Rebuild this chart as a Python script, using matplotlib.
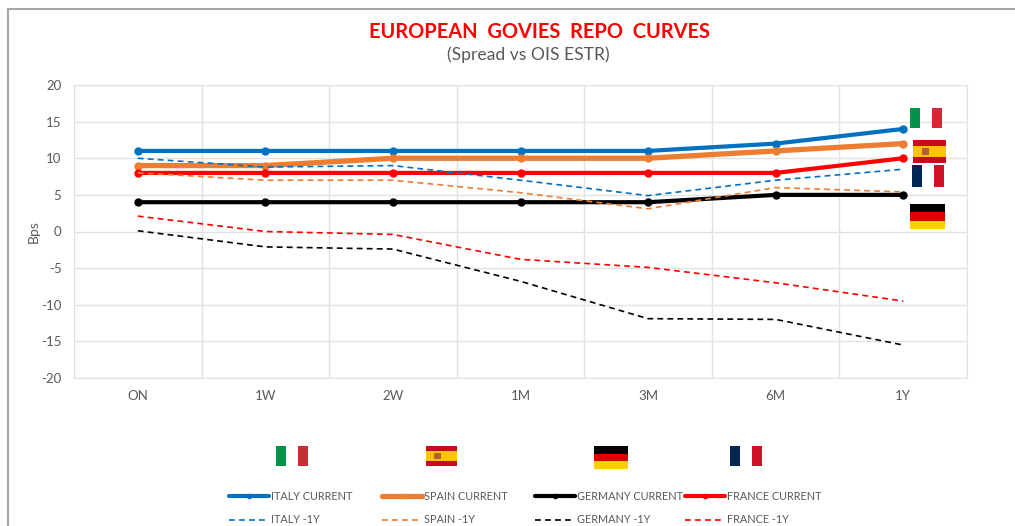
import matplotlib
matplotlib.use('Agg')
import matplotlib.pyplot as plt
from matplotlib.patches import Rectangle

# data
tenors = ['ON', '1W', '2W', '1M', '3M', '6M', '1Y']
italy_now = [11, 11, 11, 11, 11, 12, 14]
spain_now = [9, 9, 10, 10, 10, 11, 12]
germany_now = [4, 4, 4, 4, 4, 5, 5]
france_now = [8, 8, 8, 8, 8, 8, 10]
italy_old = [10, 8.8, 9, 7, 4.9, 7, 8.5]
spain_old = [8, 7, 7, 5.3, 3.1, 6, 5.4]
germany_old = [0.1, -2.1, -2.4, -6.8, -11.9, -12, -15.5]
france_old = [2.1, 0, -0.4, -3.8, -4.9, -7, -9.5]

W, H = 1015, 526
BLUE, ORANGE, RED = '#0070c0', '#ed7d31', '#ff0000'
GREY = '#595959'

plt.rcParams['font.family'] = ['Lato', 'DejaVu Sans']
plt.rcParams['axes.unicode_minus'] = False
fig = plt.figure(figsize=(W / 100, H / 100), dpi=100)
ax = fig.add_axes([74 / W, 1 - 378 / H, (967 - 74) / W, (378 - 85) / H])

x = range(len(tenors))
now_lines = []
old_lines = []
for vals, col, lw, lab in [(italy_now, BLUE, 3, 'ITALY CURRENT'), (spain_now, ORANGE, 3.8, 'SPAIN CURRENT'),
                           (germany_now, 'black', 3, 'GERMANY CURRENT'), (france_now, RED, 3, 'FRANCE CURRENT')]:
    l, = ax.plot(x, vals, color=col, lw=lw, marker='o', ms=5, label=lab, solid_capstyle='round', zorder=3)
    now_lines.append(l)
for vals, col, lab in [(italy_old, BLUE, 'ITALY -1Y'), (spain_old, ORANGE, 'SPAIN -1Y'),
                       (germany_old, 'black', 'GERMANY -1Y'), (france_old, RED, 'FRANCE -1Y')]:
    l, = ax.plot(x, vals, color=col, lw=1.2, ls=(0, (3.5, 2.5)), label=lab, zorder=4)
    old_lines.append(l)

ax.set_xlim(-0.5, len(tenors) - 0.5)
ax.set_ylim(-20, 20)
ax.set_yticks(range(-20, 21, 5))
ax.set_xticks(x)
ax.set_xticklabels(tenors)
ax.set_xticks([i - 0.5 for i in range(len(tenors) + 1)], minor=True)
ax.tick_params(axis='both', which='both', length=0, labelsize=9.5, labelcolor=GREY)
ax.tick_params(axis='x', pad=9)
ax.tick_params(axis='y', pad=9)
ax.grid(axis='y', color='#e2e2e2', lw=1)
ax.grid(axis='x', which='minor', color='#e2e2e2', lw=1)
ax.grid(axis='x', which='major', visible=False)
ax.set_axisbelow(True)
for s in ax.spines.values():
    s.set_color('#e2e2e2')
ax.set_ylabel('Bps', fontsize=10, color=GREY)
ax.yaxis.set_label_coords((40 - 74) / (967 - 74), 0.5)

fig.text(539 / W, 1 - 32 / H, 'EUROPEAN  GOVIES  REPO  CURVES', color=RED, fontsize=14.4,
         fontweight='bold', ha='center', va='center')
fig.text(528 / W, 1 - 54.5 / H, '(Spread vs OIS ESTR)', color=GREY, fontsize=12.6, ha='center', va='center')

# outer chart frame, only top and left are inside the picture
fig.add_artist(Rectangle((8 / W, -0.02), 1.02, 1 - 9 / H + 0.02, transform=fig.transFigure,
                         fill=False, ec='#a6a6a6', lw=1.5))


def box(x0, y0, w, h, col):
    fig.add_artist(Rectangle((x0 / W, 1 - (y0 + h) / H), w / W, h / H, transform=fig.transFigure,
                             fc=col, ec='none', zorder=6))


def italy(x0, y0, w, h):
    box(x0, y0, w * 0.32, h, '#009246')
    box(x0 + w * 0.68, y0, w * 0.32, h, '#ce2b37')


def france(x0, y0, w, h):
    box(x0, y0, w * 0.32, h, '#002654')
    box(x0 + w * 0.68, y0, w * 0.32, h, '#ce1126')


def germany(x0, y0, w, h):
    box(x0, y0, w, h / 3, 'black')
    box(x0, y0 + h / 3, w, h / 3, '#dd0000')
    box(x0, y0 + 2 * h / 3, w, h / 3, '#ffce00')


def spain(x0, y0, w, h):
    box(x0, y0, w, h, '#c60b1e')
    box(x0, y0 + h / 4, w, h / 2, '#ffc400')
    box(x0 + w * 0.27, y0 + h * 0.36, w * 0.2, h * 0.3, '#b5622a')


# flags beside the curves
italy(910, 108, 32, 20)
spain(913, 140, 33, 23)
france(912, 165, 32, 22)
germany(910, 204, 35, 25)
# flags above the legend
italy(276, 446, 32, 20)
spain(426, 446, 31, 20)
germany(594, 446, 34, 23)
france(730, 446, 32, 20)

# legend, one block per country so the columns can sit where they do in the chart
for i, lx in enumerate([229, 382, 535, 685]):
    leg = fig.legend(handles=[now_lines[i], old_lines[i]], loc='upper left',
                     bbox_to_anchor=(lx / W, 1 - 491 / H), bbox_transform=fig.transFigure,
                     frameon=False, fontsize=7.8, labelcolor=GREY, handlelength=3.65, handletextpad=0.2,
                     labelspacing=1.15, borderpad=0, borderaxespad=0, markerscale=0.6)

fig.savefig('out.png', dpi=100)
